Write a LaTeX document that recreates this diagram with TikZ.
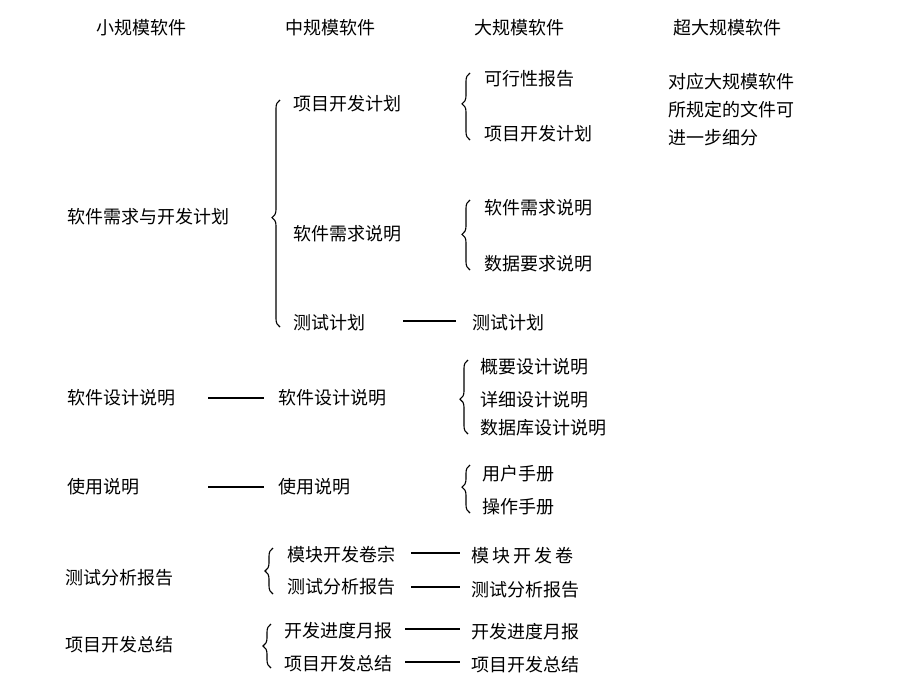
\documentclass[tikz,border=0pt]{standalone}
\usepackage{fontspec}
\setmainfont{Noto Sans CJK SC}
\usetikzlibrary{decorations.pathreplacing}
\begin{document}
\begin{tikzpicture}[x=1pt,y=-1pt,
  t/.style={anchor=west,inner sep=0pt,font=\fontsize{18}{21}\selectfont},
  h/.style={inner sep=0pt,font=\fontsize{18}{21}\selectfont},
  ln/.style={line width=1.1pt},
  br/.style={decorate,line width=1.1pt,decoration={brace,amplitude=8pt,aspect=#1}}]
\useasboundingbox (0,0) rectangle (898,691);
\node[h] (h1) at (141,28) {小规模软件};
\node[h] (h2) at (330,28) {中规模软件};
\node[h] (h3) at (519,28) {大规模软件};
\node[h] (h4) at (727,28) {超大规模软件};
% col1
\node[t] (a1) at (67,217) {软件需求与开发计划};
\node[t] (a2) at (67,398) {软件设计说明};
\node[t] (a3) at (67,487) {使用说明};
\node[t] (a4) at (65,578) {测试分析报告};
\node[t] (a5) at (65,645) {项目开发总结};
% col2
\node[t] (b1) at (293,104) {项目开发计划};
\node[t] (b2) at (293,234) {软件需求说明};
\node[t] (b3) at (293,323) {测试计划};
\node[t] (b4) at (278,398) {软件设计说明};
\node[t] (b5) at (278,487) {使用说明};
\node[t] (b6) at (287,555) {模块开发卷宗};
\node[t] (b7) at (287,587) {测试分析报告};
\node[t] (b8) at (284,631) {开发进度月报};
\node[t] (b9) at (284,664) {项目开发总结};
% col3
\node[t] (c1) at (484,79) {可行性报告};
\node[t] (c2) at (484,134) {项目开发计划};
\node[t] (c3) at (484,208) {软件需求说明};
\node[t] (c4) at (484,264) {数据要求说明};
\node[t] (c5) at (472,323) {测试计划};
\node[t] (c6) at (480,367) {概要设计说明};
\node[t] (c7) at (480,400) {详细设计说明};
\node[t] (c8) at (480,428) {数据库设计说明};
\node[t] (c9) at (482,474) {用户手册};
\node[t] (c10) at (482,507) {操作手册};
\node[t] (c11) at (471,556) {模\,块\,开\,发\,卷};
\node[t] (c12) at (471,590) {测试分析报告};
\node[t] (c13) at (471,632) {开发进度月报};
\node[t] (c14) at (471,665) {项目开发总结};
% col4
\node[t] (d1) at (668,82) {对应大规模软件};
\node[t] (d2) at (668,110) {所规定的文件可};
\node[t] (d3) at (668,138) {进一步细分};
% braces
\draw[br=0.482] (280,327) -- (280,100);
\draw[br=0.54] (470,140) -- (470,73);
\draw[br=0.51] (470,270) -- (470,200);
\draw[br=0.47] (468,434) -- (468,360);
\draw[br=0.54] (470,513) -- (470,465);
\draw[br=0.5] (273,594) -- (273,548);
\draw[br=0.5] (271,668) -- (271,624);
% line endpoints
\coordinate (p1) at (403,321); \coordinate (q1) at (456,321);
\coordinate (p2) at (208,398); \coordinate (q2) at (264,398);
\coordinate (p3) at (208,487); \coordinate (q3) at (264,487);
\coordinate (p4) at (411,553); \coordinate (q4) at (460,553);
\coordinate (p5) at (411,587); \coordinate (q5) at (460,587);
\coordinate (p6) at (405,629); \coordinate (q6) at (460,629);
\coordinate (p7) at (405,662); \coordinate (q7) at (460,662);
\foreach \i in {1,...,7} \draw[ln] (p\i) -- (q\i);
\end{tikzpicture}
\end{document}
